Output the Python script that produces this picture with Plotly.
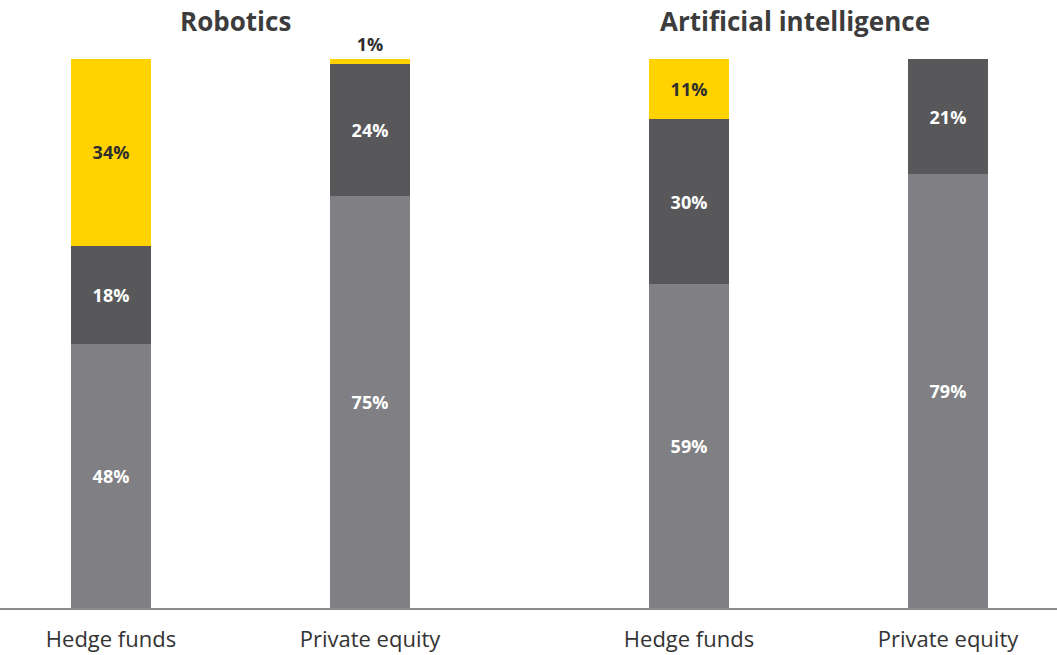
import plotly.graph_objects as go

groups = ["Robotics", "Artificial intelligence"]
categories = ["Hedge funds", "Private equity"]
# segments bottom -> top
low = {"Robotics": [48, 75], "Artificial intelligence": [59, 79]}
mid = {"Robotics": [18, 24], "Artificial intelligence": [30, 21]}
high = {"Robotics": [34, 1], "Artificial intelligence": [11, 0]}

C_LOW = "#808084"
C_MID = "#58585B"
C_HIGH = "#FFD200"
FONT = "Open Sans"

fig = go.Figure()

axes = [("x", "y"), ("x2", "y2")]
for g, (xa, ya) in zip(groups, axes):
    for vals, col, tcol in [(low[g], C_LOW, "white"), (mid[g], C_MID, "white"), (high[g], C_HIGH, "#2E2E2E")]:
        texts = [f"{v}%" if v > 0 else "" for v in vals]
        pos = ["outside" if (v > 0 and v < 3) else "inside" for v in vals]
        fig.add_trace(go.Bar(
            x=categories, y=vals, xaxis=xa, yaxis=ya,
            marker=dict(color=col, line=dict(width=0)),
            width=0.309,
            text=texts, textposition=pos, insidetextanchor="middle",
            textfont=dict(family=FONT, size=18, color=tcol, weight="bold"),
            outsidetextfont=dict(family=FONT, size=18, color="#2E2E2E", weight="bold"),
            constraintext="none", textangle=0, cliponaxis=False,
            showlegend=False, hoverinfo="skip",
        ))

split = 528.5 / 1057
common_x = dict(type="category", showgrid=False, zeroline=False, showline=True,
                linecolor="#8C8C8C", linewidth=2, ticks="", ticklabelstandoff=11,
                tickfont=dict(family=FONT, size=22, color="#333333"))
common_y = dict(range=[0, 100], visible=False, showgrid=False, zeroline=False)

fig.update_layout(
    width=1057, height=655,
    margin=dict(l=0, r=0, t=59, b=47),
    paper_bgcolor="white", plot_bgcolor="white",
    barmode="stack",
    xaxis=dict(domain=[0, split], range=[-0.4286, 1.612], anchor="y", **common_x),
    xaxis2=dict(domain=[split, 1], range=[-0.6197, 1.421], anchor="y2", **common_x),
    yaxis=dict(anchor="x", **common_y),
    yaxis2=dict(anchor="x2", **common_y),
    annotations=[
        dict(text="<b>Robotics</b>", x=235 / 1057, y=1, xref="paper", yref="paper",
             xanchor="center", yanchor="bottom", yshift=18, showarrow=False,
             font=dict(family=FONT, size=26, color="#3C3C3C")),
        dict(text="<b>Artificial intelligence</b>", x=795 / 1057, y=1, xref="paper", yref="paper",
             xanchor="center", yanchor="bottom", yshift=18, showarrow=False,
             font=dict(family=FONT, size=26, color="#3C3C3C")),
    ],
)

fig.write_html("out.html", config={"displayModeBar": False},
               post_script="document.body.style.margin='0';document.body.style.overflow='hidden';")
